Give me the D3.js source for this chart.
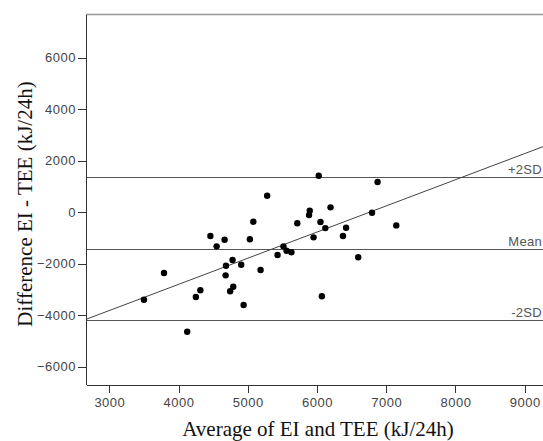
<!DOCTYPE html>
<html lang="en">
<head>
    <meta charset="UTF-8">
    <title>Bland-Altman EI vs TEE</title>
    <script type="text/javascript" src="https://cdn.jsdelivr.net/npm/d3@7"></script>
    <style>
        body { margin: 0; background: #fff; }
        .axis path,
        .axis line {
            fill: none;
            stroke: #333;
            shape-rendering: crispEdges;
        }
        .axis text {
            font-family: "Liberation Sans", Arial, sans-serif;
            font-size: 13px;
            letter-spacing: 0.5px;
            fill: #444;
        }
        .title {
            font-family: "Liberation Serif", "Times New Roman", serif;
            font-size: 21px;
            fill: #111;
        }
    </style>
</head>
<body>
    <script type="text/javascript">
        // average of EI and TEE (kJ/24h)
        let avgValues = [3500, 3790, 4125, 4250, 4315, 4460, 4550, 4665, 4685, 4680,
                         4780, 4745, 4790, 4905, 4940, 5030, 5080, 5185, 5280, 5430,
                         5515, 5560, 5630, 5715, 5885, 5895, 5950, 6025, 6050, 6120,
                         6070, 6195, 6875, 6795, 6420, 6375, 7145, 6595]
        // difference EI - TEE (kJ/24h)
        let diffValues = [-3400, -2360, -4640, -3290, -3030, -925, -1325, -1070, -2080, -2450,
                          -1855, -3070, -2895, -2040, -3605, -1050, -370, -2245, 640, -1660,
                          -1325, -1495, -1555, -430, -110, 60, -975, 1420, -380, -615,
                          -3265, 190, 1175, -20, -600, -925, -510, -1750]

        let refValues = [1353, -1417, -4187]
        let refLabels = ["+2SD", "Mean", "-2SD"]
        let regIntercept = -6865, regSlope = 1.016

        let xTicks = [3000, 4000, 5000, 6000, 7000, 8000, 9000]
        let yTicks = [-6000, -4000, -2000, 0, 2000, 4000, 6000]

        let w = 543, h = 441
        let mLeft = 86, mTop = 14.5, mBottom = 384.5, mRight = 560

        let xScale = d3.scaleLinear()
            .domain([2663, 9510])
            .range([mLeft, mRight])

        let yScale = d3.scaleLinear()
            .domain([-6690, 7680])
            .range([mBottom, mTop])

        let svg = d3.select("body")
            .append("svg")
            .attr("width", w)
            .attr("height", h)

        // top frame line
        svg.append("line")
            .attr("x1", mLeft).attr("x2", mRight)
            .attr("y1", mTop).attr("y2", mTop)
            .attr("stroke", "#999")
            .attr("stroke-width", 1.5)

        // reference lines (mean and +/- 2SD)
        svg.selectAll(".ref")
            .data(refValues)
            .enter()
            .append("line")
            .attr("class", "ref")
            .attr("x1", mLeft).attr("x2", mRight)
            .attr("y1", (d) => Math.round(yScale(d)) + 0.5)
            .attr("y2", (d) => Math.round(yScale(d)) + 0.5)
            .attr("stroke", "#555")
            .attr("stroke-width", 1)

        svg.selectAll(".reflabel")
            .data(refValues)
            .enter()
            .append("text")
            .attr("class", "reflabel")
            .text((d, i) => refLabels[i])
            .attr("x", w - 1)
            .attr("y", (d) => yScale(d) - 3)
            .attr("text-anchor", "end")
            .attr("font-family", "Liberation Sans, Arial, sans-serif")
            .attr("font-size", "13px")
            .attr("letter-spacing", "0.3px")
            .attr("fill", "#555")

        // regression line
        let xd = xScale.domain()
        svg.append("line")
            .attr("x1", xScale(xd[0])).attr("y1", yScale(regIntercept + regSlope * xd[0]))
            .attr("x2", xScale(xd[1])).attr("y2", yScale(regIntercept + regSlope * xd[1]))
            .attr("stroke", "#444")
            .attr("stroke-width", 1)

        svg.selectAll("circle")
            .data(avgValues)
            .enter()
            .append("circle")
            .attr("cx", (d) => xScale(d))
            .attr("cy", (d, i) => yScale(diffValues[i]))
            .attr("r", 3.2)
            .attr("fill", "#000")

        let xAxis = d3.axisBottom(xScale)
            .tickValues(xTicks)
            .tickSizeInner(8)
            .tickSizeOuter(0)
            .tickPadding(5)
            .tickFormat(d3.format("d"))

        let yAxis = d3.axisLeft(yScale)
            .tickValues(yTicks)
            .tickSizeInner(8)
            .tickSizeOuter(0)
            .tickPadding(2)
            .tickFormat(d3.format("d"))

        svg.append("g")
            .attr("class", "axis")
            .attr("transform", "translate(0," + mBottom + ")")
            .call(xAxis)

        svg.append("g")
            .attr("class", "axis")
            .attr("transform", "translate(" + mLeft + ",0)")
            .call(yAxis)

        svg.append("text")
            .attr("class", "title")
            .attr("x", 318)
            .attr("y", 436)
            .attr("text-anchor", "middle")
            .text("Average of EI and TEE (kJ/24h)")

        svg.append("text")
            .attr("class", "title")
            .attr("transform", "translate(31.5,204) rotate(-90)")
            .attr("text-anchor", "middle")
            .text("Difference EI - TEE (kJ/24h)")
    </script>
</body>
</html>
